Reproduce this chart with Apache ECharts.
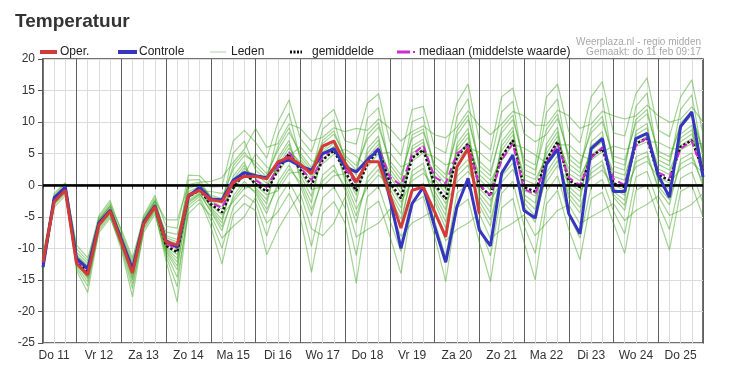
<!DOCTYPE html>
<html><head><meta charset="utf-8">
<script src="https://cdn.jsdelivr.net/npm/echarts@6/dist/echarts.min.js"></script>
<style>html,body{margin:0;padding:0;background:#fff}#c{width:732px;height:382px}</style>
</head><body><div id="c"></div>
<script>
// Day labels (x axis), hours per 6-hour step
const dayLabels = ['Do 11','Vr 12','Za 13','Zo 14','Ma 15','Di 16','Wo 17','Do 18','Vr 19','Za 20','Zo 21','Ma 22','Di 23','Wo 24','Do 25','Vr 26'];
const hourLabels = ['00','06','12','18'];

// Operational run (ends Zo 21 00:00)
const oper = [-12.2,-2.6,-0.8,-12.4,-14.2,-6.3,-4.1,-9.0,-13.9,-6.1, -3.4,-9.0,-9.5,-1.6,-0.8,-2.3,-2.6,0.5,1.4,1.4, 1.0,3.7,4.4,3.3,1.8,6.2,7.0,3.5,0.5,3.7, 3.7,-1.5,-6.8,-0.8,-0.3,-4.2,-8.2,2.9,5.8,-4.5];
// Control run
const control = [-13,-2.0,-0.3,-11.6,-13.2,-6.0,-4.0,-8.6,-13.3,-5.9, -3.3,-8.8,-9.8,-1.8,-0.3,-2.2,-2.3,0.8,2.0,1.5, 1.2,3.5,4.0,3.0,2.4,5.0,5.8,2.9,2.1,4.0, 5.7,-2.0,-10.0,-2.9,-0.3,-6.5,-12.2,-3.4,1.1,-7.1, -9.6,1.9,4.8,-4.0,-5.2,3.3,5.7,-4.5,-7.7,5.8, 7.4,-1.0,-1.0,7.4,8.2,1.6,-1.9,9.3,11.6,1.3];
// Ensemble mean (gemiddelde)
const meanVals = [-12.5,-2.3,-0.6,-12.0,-13.6,-6.0,-4.0,-8.7,-13.5,-6.0, -3.3,-9.6,-10.6,-1.8,-0.8,-3.0,-4.3,-0.5,2.0,0.2, -1.0,2.4,5.0,2.5,0.0,4.0,5.5,2.2,-0.9,3.4, 5.6,0.5,-2.1,4.3,5.6,0.2,-2.2,4.5,6.6,0.0, -1.7,4.5,7.1,-0.3,-1.0,4.0,6.9,0.8,-0.3,4.5, 5.8,0.3,-0.3,6.6,7.4,1.6,0.8,6.1,7.1,2.4];
// Ensemble median (mediaan)
const medianVals = [-12.4,-2.2,-0.5,-11.9,-13.4,-5.9,-3.9,-8.6,-13.3,-5.9, -3.2,-9.3,-10.0,-1.5,-0.6,-2.7,-3.6,0.2,2.2,0.8, -0.3,2.8,5.2,2.8,0.8,4.5,5.9,2.6,0.3,4.2, 5.9,1.3,0.0,4.8,6.3,1.3,0.3,5.0,6.3,0.0, -1.6,4.0,6.6,-0.6,-1.4,3.5,6.5,1.2,0.0,4.3, 6.0,1.0,0.0,6.3,7.5,2.0,1.2,5.8,7.0,2.0];

// Ensemble members (Leden)
const memberA = [-11.4,-1.3,0.4,-10.1,-12.0,-4.8,-2.4,-7.4,-12.0,-4.8, -1.6,-6.5,-6.8,1.6,1.5,-0.3,-0.2,7.0,8.7,6.8, 4.3,10,13.5,7.4,5.3,10.5,12.0,7.0,6.5,13.0, 14.5,6.9,4.7,12,12.5,6.1,5.1,13,16,7.1, 5.6,14,15.4,8.2,6.9,8,10.6,4.9,3.4,8.3, 10.1,4.6,4.0,9.8,11.3,5.4,4.5,9.3,11.0,5.5];
const memberB = [-11.0,-1.8,-0.1,-9.5,-11.5,-5.4,-3.1,-7.0,-11.5,-5.4, -2.4,-5.5,-5.5,0.1,0.5,0.6,1.2,3.6,5.7,9.0, 6.0,6.6,9.7,9.0,7.0,7.6,9.1,8.5,9.0,8.7, 10.5,9.0,7.0,8.5,9.4,8.0,7.5,9.2,11.8,9.5, 8.0,9.7,11.7,11,9.5,9.5,11.9,11,9,9.7, 11.7,11,10.5,11.0,12.7,11,10,10.5,12.4,10];
const memberC = [-12.1,-1.6,0.2,-11.4,-13.1,-5.1,-2.8,-8.3,-13.0,-5.1, -2.0,-8.6,-9.3,0.8,0.9,-2.1,-2.9,5.1,7.0,2.4, 0.8,8.1,11.4,4.1,1.8,8.9,10.4,3.8,1.6,10.6, 12.3,2.6,0.2,10.1,10.8,2.2,0.2,10.9,13.7,2.4, 0.8,3.9,6.5,5.9,4.8,3.5,6.4,6.4,4.8,4.0, 5.3,6.2,5.7,6.1,6.9,6.8,5.9,5.6,6.6,6.6];
const memberD = [-11.9,-1.9,-0.2,-11.0,-12.8,-5.5,-3.4,-8.0,-12.7,-5.5, -2.6,-8.0,-8.6,-0.5,0.1,-1.6,-2.1,2.5,4.7,3.7, 1.8,5.5,8.4,5.1,2.8,6.6,8.1,4.7,3.1,7.3, 9.2,3.9,1.6,7.4,8.4,3.3,1.7,7.9,10.4,3.8, 2.2,8.3,10.4,4.2,3.2,14,16,8.5,6.7,14, 16.4,8.3,7.8,14.5,17,8.7,7.7,14,16.7,8.1];
const memberE = [-12.7,-2.1,-0.4,-12.3,-14.3,-5.7,-3.6,-9.0,-14.3,-5.7, -2.9,-10.1,-12.2,-1.0,-0.2,-3.7,-6.0,1.4,3.7,-0.7, -3,4.3,7.1,1.0,-2.8,5.6,7.1,0.6,-3.8,-0.3, 1.6,0.1,-2.7,0.7,1.9,-0.2,-2.9,0.5,2.2,-0.5, -2.4,0.5,2.5,-0.8,-1.7,0.5,3.1,0.4,-0.9,1.2, 2.4,0.0,-0.8,2.9,3.8,1.3,0.3,2.6,3.6,2.0];
const memberF = [-12.4,-2.2,-0.5,-11.8,-13.4,-5.9,-3.9,-8.5,-13.3,-5.9, -3.1,-9.2,-10.1,-1.5,-0.6,-2.7,-3.8,0.3,2.7,1.1, -0.3,3.2,5.9,3.2,0.7,4.7,6.2,2.9,0.1,4.4, 6.5,1.4,-1.2,5.1,6.3,1.0,-1.3,5.4,7.6,1.0, -0.8,5.5,8.0,0.9,0.1,5,7.8,1.8,0.7,5.5, 6.9,1.4,0.8,7.4,8.4,2.6,1.7,6.9,8.1,3.2];
const memberG = [-11.7,-2.4,-0.7,-10.6,-12.4,-6.1,-4.1,-7.8,-12.4,-6.1, -3.4,-7.4,-7.8,-2.0,-0.9,-1.0,-1.3,-0.8,1.7,5.0, 2.9,1.9,4.6,6.1,3.9,3.4,4.9,5.7,4.6,2.9, 5.0,5.2,2.9,3.8,5.1,4.5,3.2,3.9,6.0,5.2, 3.7,11.6,13.3,2.5,1.6,11.5,13.7,3.4,2.0,11.6, 13.8,3.0,2.4,12.5,14.6,4.0,3.1,12.0,14.3,4.3];
const memberH = [-12.9,-2.5,-0.8,-12.5,-14.8,-6.3,-4.3,-9.2,-15.0,-6.3, -3.6,-10.5,-13.4,-2.4,-1.2,-4.2,-7.2,-1.7,0.6,-1.3, -4.5,0.5,3.2,-0.1,-4.9,1.6,3.2,-0.7,-6.0,1.3, 3.3,-2.5,-6.3,2.3,3.5,-2.7,-6.8,2.2,4.1,-3.2, -6.5,2.2,4.5,-3.4,-5.9,2,4.7,-2.0,-4.4,2.6, 3.9,-1.9,-4.0,4.5,5.3,-0.7,-3.1,4.1,5.1,-0.2];
const memberI = [-12.6,-2.7,-1.0,-12.1,-13.8,-6.5,-4.4,-8.8,-13.7,-6.5, -3.8,-9.7,-11.0,-2.8,-1.5,-3.2,-4.7,-2.6,-0.5,0.0, -1.5,-0.9,1.9,2.1,-0.7,-0.2,1.5,1.8,-1.6,5.8, 7.8,-1.2,-4.5,6.2,7.3,-1.5,-4.8,6.6,9.0,-1.8, -4.4,6.9,9.2,-2.1,-3.8,6.5,9.2,-0.8,-2.6,6.9, 8.5,-1.0,-2.4,8.6,9.8,0.3,-1.4,8.1,9.5,0.9];
const memberJ = [-13.2,-2.9,-1.1,-13.1,-16,-6.8,-4.6,-9.8,-16.4,-6.8, -4.0,-11.3,-16.1,-3.2,-1.8,-5.5,-10.0,-3.5,-1.5,-2.8, -8,-2.3,0.5,-2.8,-9.7,-2,-0.3,-3.6,-11.1,-1.8, -0.2,-5.5,-10.5,-0.9,0.3,-5.6,-11.4,-1.3,0.3,-6.3, -11.2,-1.3,0.6,-6.4,-10.8,-1,1.5,-4.7,-8.4,-0.3, 0.9,-4.1,-7.7,1.3,2.2,-3.0,-7.0,1.1,2.1,-2.8];
const memberK = [-13.0,-3.5,-1.6,-12.8,-15.3,-7.5,-5.2,-9.5,-15.6,-7.5, -4.6,-10.8,-14.6,-4.5,-2.8,-4.8,-8.4,-6.5,-5,-1.9, -6,-4.2,-1.3,-5,-13.8,-4.4,-2.6,-6,-15.5,-3.9, -2.5,-8,-14,-2.9,-1.8,-8,-15.3,-3.6,-2.2,-9, -15.3,-3.6,-2.1,-9,-15,-3,-0.8,-7,-11.8,-2.2, -1.1,-6,-10.8,-0.8,0.1,-5,-10.3,-1.0,0.0,-5];
const memberL = [-13.5,-3.1,-1.3,-13.5,-17,-7.1,-4.9,-10.2,-17.7,-7.1, -4.2,-12,-18.5,-3.7,-2.2,-6.5,-12.5,-4.7,-2.9,-4, -11,-7,-4,-1.3,-6.9,-8,-6,-1.9,-8.2,-7, -6,-3.8,-8.1,-6,-5,-3.9,-8.8,-7,-6,-4.5, -8.5,-7,-6,-4.7,-8,-6,-4,-3.1,-6.1,-5, -4,-2.9,-5.6,-4,-3,-1.7,-4.8,-4,-3,-1.3];
const memberM = [-12.0,-1.9,-0.2,-11.2,-13.0,-5.5,-3.3,-8.2,-12.9,-5.5, -2.5,-8.3,-9.0,-0.2,0.3,-1.9,-2.5,3.1,5.2,3.1, 1.3,6.1,9.1,4.6,2.3,7.1,8.6,4.3,2.4,8.0, 9.9,3.3,0.9,8.0,8.9,2.8,1.0,8.6,11.1,3.1, 1.5,9.0,11.1,3.4,2.4,8.8,11.3,4.2,2.7,9.0, 10.9,3.8,3.2,10.4,12.0,4.7,3.8,9.9,11.7,4.9];
const memberN = [-12.3,-2.3,-0.6,-11.6,-13.3,-6.0,-4.0,-8.4,-13.2,-6.0, -3.3,-8.9,-9.7,-1.8,-0.8,-2.4,-3.4,-0.3,2.2,1.8, 0.3,2.6,5.3,3.7,1.3,4.1,5.6,3.4,0.9,3.7, 5.8,2.0,-0.5,4.5,5.7,1.6,-0.6,4.7,6.8,1.7, 0.0,4.7,7.3,1.7,0.9,4.3,7.1,2.6,1.4,4.8, 6.1,2.2,1.6,6.8,7.7,3.3,2.4,6.3,7.4,3.8];
const memberO = [-12.8,-2.6,-0.9,-12.4,-14.6,-6.4,-4.4,-9.1,-14.7,-6.4, -3.7,-10.3,-12.8,-2.6,-1.4,-4.0,-6.6,-2.2,0.1,-1.0, -3.8,-0.2,2.6,0.5,-3.9,0.7,2.4,-0.1,-4.9,0.5, 2.5,-1.9,-5.4,1.5,2.7,-2.1,-5.8,1.4,3.2,-2.5, -5.5,1.4,3.5,-2.8,-4.9,1.3,3.9,-1.4,-3.5,1.9, 3.2,-1.5,-3.2,3.7,4.6,-0.2,-2.3,3.4,4.4,0.4];
const memberP = [-12.7,-2.2,-0.5,-12.2,-14.1,-5.8,-3.8,-8.9,-14.0,-5.8, -3.0,-9.9,-11.6,-1.3,-0.4,-3.5,-5.4,0.9,3.2,-0.4, -2.3,3.8,6.5,1.6,-1.8,5.2,6.7,1.2,-2.7,5.1, 7.2,-0.6,-3.6,5.7,6.8,-0.9,-3.9,6.0,8.3,-1.2, -3.4,6.2,8.6,-1.5,-2.8,5.8,8.5,-0.2,-1.8,6.2, 7.7,-0.5,-1.6,8.0,9.1,0.8,-0.6,7.5,8.8,1.5];
const members = [memberA,memberB,memberC,memberD,memberE,memberF,memberG,memberH,memberI,memberJ,memberK,memberL,memberM,memberN,memberO,memberP];

// Legend entries
const legendNames = ['Oper.', 'Controle', 'Leden', 'gemiddelde', 'mediaan (middelste waarde)'];

// time categories: Do 11 06:00 ... Vr 26 00:00 (6-hourly)
const allSlots = [];
dayLabels.forEach(d => hourLabels.forEach(h => allSlots.push(d + '|' + h)));
const times = allSlots.slice(1, 61);

const FONT = 'Liberation Sans, Arial, Helvetica, sans-serif';
const C_OPER = '#d33a3a', C_CTRL = '#3535c0', C_MEMB = 'rgba(60,165,30,0.48)', C_MEAN = '#111', C_MED = '#cc2bd0';
const chart = echarts.init(document.getElementById('c'), null, {renderer: 'canvas'});

const memberSeries = members.map(m => ({
  name: legendNames[2], type: 'line', data: m, symbol: 'none', silent: true, z: 1,
  lineStyle: {color: C_MEMB, width: 1.2}
}));

// hand-drawn legend (icons + text) to mimic the original legend row
const LY = 52;
const legendGraphic = [
  {type: 'line', shape: {x1: 40, y1: LY, x2: 57, y2: LY}, style: {stroke: C_OPER, lineWidth: 4}},
  {type: 'text', x: 60, y: LY, style: {text: legendNames[0], font: '12px ' + FONT, fill: '#222', verticalAlign: 'middle'}},
  {type: 'line', shape: {x1: 118, y1: LY, x2: 137, y2: LY}, style: {stroke: C_CTRL, lineWidth: 4}},
  {type: 'text', x: 139, y: LY, style: {text: legendNames[1], font: '12px ' + FONT, fill: '#222', verticalAlign: 'middle'}},
  {type: 'line', shape: {x1: 210, y1: LY, x2: 226, y2: LY}, style: {stroke: 'rgba(120,175,100,0.6)', lineWidth: 1}},
  {type: 'text', x: 231, y: LY, style: {text: legendNames[2], font: '12px ' + FONT, fill: '#222', verticalAlign: 'middle'}},
  {type: 'line', shape: {x1: 290, y1: LY, x2: 302, y2: LY}, style: {stroke: C_MEAN, lineWidth: 3, lineDash: [2, 1.5]}},
  {type: 'text', x: 312, y: LY, style: {text: legendNames[3], font: '12px ' + FONT, fill: '#222', verticalAlign: 'middle'}},
  {type: 'line', shape: {x1: 397, y1: LY, x2: 410, y2: LY}, style: {stroke: C_MED, lineWidth: 3}},
  {type: 'line', shape: {x1: 413, y1: LY, x2: 415, y2: LY}, style: {stroke: C_MED, lineWidth: 2}},
  {type: 'text', x: 419, y: LY, style: {text: legendNames[4], font: '12px ' + FONT, fill: '#222', verticalAlign: 'middle'}},
  {type: 'text', right: 31, top: 37, style: {text: 'Weerplaza.nl - regio midden', fill: '#a8a8a8', font: '10px ' + FONT}},
  {type: 'text', right: 31, top: 47, style: {text: 'Gemaakt: do 11 feb 09:17', fill: '#a8a8a8', font: '10px ' + FONT}}
];

chart.setOption({
  animation: false,
  backgroundColor: '#fff',
  textStyle: {fontFamily: FONT},
  title: {text: 'Temperatuur', left: 10, top: 7,
    textStyle: {fontSize: 19, fontWeight: 'bold', color: '#333', fontFamily: FONT}},
  graphic: legendGraphic,
  grid: {left: 43, right: 29, top: 59, bottom: 39, show: true, borderColor: '#444', borderWidth: 1.5, backgroundColor: '#fff'},
  xAxis: {
    type: 'category', data: times, boundaryGap: false,
    axisLine: {lineStyle: {color: '#555', width: 1.5}},
    axisTick: {show: true, interval: 0, length: 4, lineStyle: {color: '#555'}},
    axisLabel: {interval: (i, v) => v.endsWith('|12'), formatter: v => v.split('|')[0], fontSize: 12, color: '#333', margin: 7},
    splitLine: {show: true, interval: 0, lineStyle: {color: ['#dcdcdc', '#dcdcdc', '#dcdcdc', '#606060'], width: 1}}
  },
  yAxis: {
    type: 'value', min: -25, max: 20, interval: 5,
    axisLine: {show: true, lineStyle: {color: '#555', width: 1.5}},
    axisTick: {show: true, length: 5, lineStyle: {color: '#555'}},
    axisLabel: {fontSize: 12, color: '#333', margin: 8},
    splitLine: {lineStyle: {color: '#dcdcdc', width: 1}}
  },
  series: memberSeries.concat([
    {name: legendNames[3], type: 'line', data: meanVals, symbol: 'none', z: 3,
      lineStyle: {color: C_MEAN, width: 2.5, type: [2.5, 2]},
      markLine: {silent: true, symbol: 'none', label: {show: false},
        lineStyle: {color: '#000', width: 2.5, type: 'solid'}, data: [{yAxis: 0}]}},
    {name: legendNames[4], type: 'line', data: medianVals, symbol: 'none', z: 4,
      lineStyle: {color: C_MED, width: 2, type: [7, 4]}},
    {name: legendNames[1], type: 'line', data: control, symbol: 'none', z: 5,
      lineStyle: {color: C_CTRL, width: 3}},
    {name: legendNames[0], type: 'line', data: oper, symbol: 'none', z: 6,
      lineStyle: {color: C_OPER, width: 3}}
  ])
});
</script></body></html>
